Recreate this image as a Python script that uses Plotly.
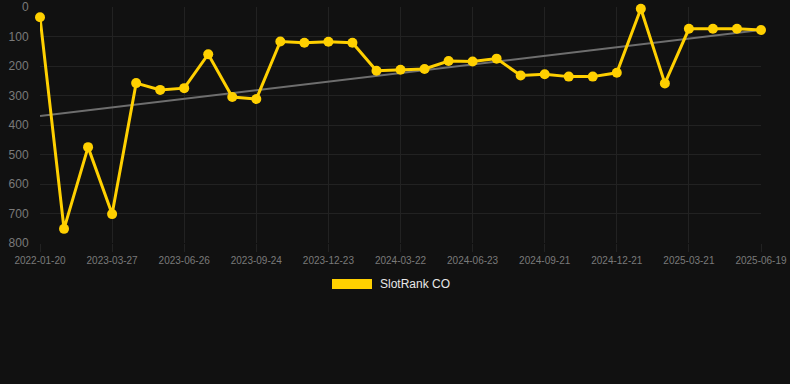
import numpy as np
import plotly.graph_objects as go

dates = ["2022-01-20", "2022-06-10", "2022-10-30", "2023-03-27", "2023-04-26", "2023-05-26",
         "2023-06-26", "2023-07-26", "2023-08-25", "2023-09-24", "2023-10-24", "2023-11-23",
         "2023-12-23", "2024-01-22", "2024-02-21", "2024-03-22", "2024-04-22", "2024-05-23",
         "2024-06-23", "2024-07-23", "2024-08-22", "2024-09-21", "2024-10-21", "2024-11-20",
         "2024-12-21", "2025-01-20", "2025-02-19", "2025-03-21", "2025-04-20", "2025-05-20",
         "2025-06-19"]
rank = [35, 752, 475, 702, 258, 281, 275, 160, 305, 312, 117, 121, 118, 121, 216, 213,
        210, 183, 185, 175, 232, 228, 236, 236, 223, 6, 259, 74, 74, 74, 78]
tick_labels = dates[::3]
y_ticks = [0, 100, 200, 300, 400, 500, 600, 700, 800]
series_name = "SlotRank CO"

idx = np.arange(len(rank))
slope, intercept = np.polyfit(idx, rank, 1)
trend = slope * idx + intercept

BG = "#111111"
GOLD = "#FFD000"
GRID = "#222222"
TICK = "#7a7a7a"

fig = go.Figure()
fig.add_trace(go.Scatter(x=dates, y=trend, mode="lines",
                         line=dict(color="#6e6e6e", width=2),
                         showlegend=False, hoverinfo="skip", cliponaxis=False))
fig.add_trace(go.Scatter(x=dates, y=rank, mode="lines+markers", name=series_name,
                         line=dict(color=GOLD, width=3),
                         marker=dict(color=GOLD, size=10),
                         showlegend=False, cliponaxis=False))

fig.update_layout(
    width=790, height=384,
    paper_bgcolor=BG, plot_bgcolor=BG,
    margin=dict(l=40, r=29, t=7, b=141, autoexpand=False),
    font=dict(family="Liberation Sans, Arial, sans-serif", color=TICK),
    showlegend=False,
)
fig.update_xaxes(type="category", categoryorder="array", categoryarray=dates,
                 range=[0, len(dates) - 1], automargin=False,
                 tickmode="array", tickvals=tick_labels, ticktext=tick_labels,
                 tickfont=dict(size=10, color=TICK),
                 showgrid=True, gridcolor=GRID, gridwidth=1,
                 ticks="outside", ticklen=8, tickcolor=GRID,
                 showline=False, zeroline=False)
fig.update_yaxes(range=[800, 0], tickmode="array", tickvals=y_ticks, automargin=False,
                 tickfont=dict(size=12, color=TICK),
                 showgrid=True, gridcolor=GRID, gridwidth=1,
                 ticks="outside", ticklen=8, tickcolor=BG,
                 showline=False, zeroline=False)

# legend drawn as swatch + label
fig.add_shape(type="rect", xref="paper", yref="paper",
              x0=(332 - 40) / 721, x1=(372 - 40) / 721,
              y0=-(279 - 243 + 10) / 236, y1=-(279 - 243) / 236,
              fillcolor=GOLD, line=dict(width=0))
fig.add_annotation(text=series_name, xref="paper", yref="paper",
                   x=(378 - 40) / 721, y=-(284 - 243) / 236,
                   xanchor="left", yanchor="middle", showarrow=False,
                   font=dict(size=12, color="#e8e8e8"))

fig.write_html("out.html", config={"displayModeBar": False},
               post_script="document.body.style.margin='0';document.body.style.background='#111111';")
